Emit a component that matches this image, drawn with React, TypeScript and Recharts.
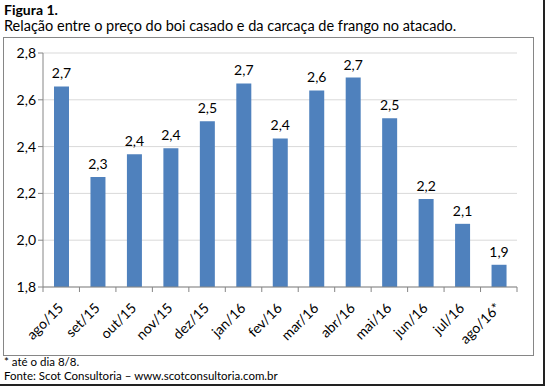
import { Bar, BarChart, CartesianGrid, LabelList, XAxis, YAxis } from "recharts";

const months = [
  "ago/15", "set/15", "out/15", "nov/15", "dez/15", "jan/16", "fev/16",
  "mar/16", "abr/16", "mai/16", "jun/16", "jul/16", "ago/16*",
];
const ratio = [2.657, 2.27, 2.367, 2.393, 2.508, 2.67, 2.435, 2.64, 2.695, 2.521, 2.176, 2.07, 1.895];
const yTicks = [1.8, 2.0, 2.2, 2.4, 2.6, 2.8];

const data = months.map((m, i) => ({ m, v: ratio[i] }));

const FONT = "Lato, 'Open Sans', sans-serif";
const BAND = (517 - 43) / months.length;

const fmt = (v: number) => v.toFixed(1).replace(".", ",");

function MonthTick(props: any) {
  const { x, y, payload, index } = props;
  const last = index === months.length - 1;
  const tx = x + 3;
  const ty = y + 14;
  return (
    <g>
      <line x1={x - BAND / 2} x2={x - BAND / 2} y1={y - 8} y2={y - 3} stroke="#868686" />
      {last && <line x1={x + BAND / 2} x2={x + BAND / 2} y1={y - 8} y2={y - 3} stroke="#868686" />}
      <text
        x={tx}
        y={ty}
        transform={`rotate(-45 ${tx} ${ty})`}
        textAnchor="end"
        fontSize={14}
        fontFamily={FONT}
        fill="#000"
      >
        {payload.value}
      </text>
    </g>
  );
}

export default function App() {
  return (
    <div style={{ position: "absolute", left: 0, top: 0, width: 545, height: 386, background: "#fff", fontFamily: FONT, overflow: "hidden" }}>
      <div style={{ position: "absolute", left: 4, top: 1, fontSize: 14, fontWeight: 700, color: "#000" }}>Figura 1.</div>
      <div style={{ position: "absolute", left: 4, top: 17, fontSize: 14.5, color: "#000", whiteSpace: "nowrap" }}>
        Relação entre o preço do boi casado e da carcaça de frango no atacado.
      </div>
      <div style={{ position: "absolute", left: 3, top: 37, width: 529, height: 317, border: "1px solid #868686" }} />
      <div style={{ position: "absolute", left: 0, top: 0 }}>
        <BarChart width={545} height={386} data={data} margin={{ top: 53, right: 28, left: 0, bottom: 39 }}>
          <CartesianGrid vertical={false} stroke="#d9d9d9" />
          <XAxis
            dataKey="m"
            interval={0}
            height={60}
            axisLine={{ stroke: "#868686" }}
            tickLine={false}
            tick={<MonthTick />}
          />
          <YAxis
            width={43}
            domain={[1.8, 2.8]}
            ticks={yTicks}
            allowDataOverflow
            tickFormatter={fmt}
            axisLine={{ stroke: "#868686" }}
            tickLine={{ stroke: "#868686" }}
            tickSize={5}
            tick={{ fontSize: 14, fill: "#000", fontFamily: FONT }}
          />
          <Bar dataKey="v" fill="#4f81bd" barSize={15} isAnimationActive={false}>
            <LabelList
              dataKey="v"
              position="top"
              offset={8}
              formatter={(v: any) => fmt(Number(v))}
              style={{ fontSize: 14, fill: "#000", fontFamily: FONT }}
            />
          </Bar>
        </BarChart>
      </div>
      <div style={{ position: "absolute", left: 4, top: 355, fontSize: 11.5, color: "#000" }}>* até o dia 8/8.</div>
      <div style={{ position: "absolute", left: 4, top: 369, fontSize: 11.5, color: "#000", whiteSpace: "nowrap" }}>
        Fonte: Scot Consultoria – www.scotconsultoria.com.br
      </div>
      <div style={{ position: "absolute", left: 0, top: 384, width: 545, height: 2, background: "#222" }} />
      <div style={{ position: "absolute", left: 543, top: 0, width: 2, height: 386, background: "#222" }} />
    </div>
  );
}
